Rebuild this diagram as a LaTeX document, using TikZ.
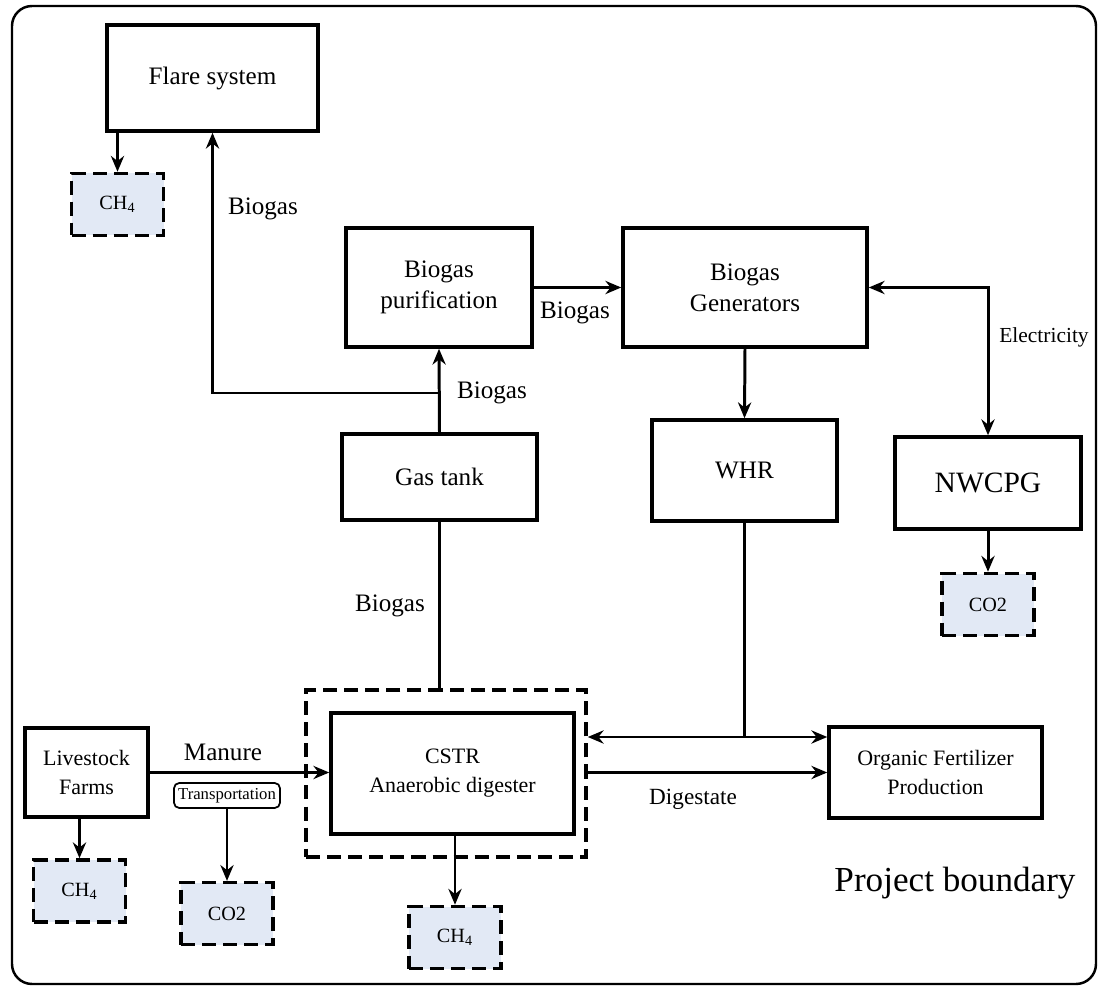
\documentclass[tikz,border=0pt]{standalone}
\usepackage{fontspec}
\setmainfont{Liberation Serif}
\usepackage{tikz}
\usetikzlibrary{shapes,arrows.meta,positioning}
\definecolor{emisblue}{RGB}{226,233,245}

\begin{document}
\begin{tikzpicture}[
    block/.style={rectangle, draw, line width=2pt, align=center, inner sep=0pt, font=\fontsize{14.3}{17.6}\selectfont},
    smallblock/.style={block, font=\fontsize{12.5}{16.5}\selectfont},
    emission/.style={rectangle, draw, dash pattern=on 8pt off 4pt, line width=2pt, fill=emisblue, minimum width=1.84cm, minimum height=1.24cm, font=\fontsize{11.5}{13}\selectfont},
    transport/.style={rectangle, draw, rounded corners=3pt, line width=1pt, inner sep=1pt, minimum width=2.12cm, minimum height=0.5cm, font=\fontsize{9.5}{11}\selectfont},
    flow/.style={font=\fontsize{14.3}{17}\selectfont},
    line/.style={line width=1.7pt},
    arrow/.style={line, ->, >={Stealth[length=9pt,width=7.5pt]}},
    twoway/.style={arrow, <->}
]
\useasboundingbox (0,0) rectangle (21.96,-19.72);
\draw[line width=1.4pt, rounded corners=0.4cm] (0.24,-0.12) rectangle (21.92,-19.68);

% upper part
\node[block, minimum width=4.22cm, minimum height=2.12cm] (flare) at (4.25,-1.56) {Flare system};
\node[emission] (ch4top) at (2.35,-4.09) {CH\textsubscript{4}};
\node[block, minimum width=3.72cm, minimum height=2.38cm] (purif) at (8.78,-5.75) {Biogas\\purification};
\node[block, minimum width=4.88cm, minimum height=2.38cm] (gens) at (14.90,-5.75) {Biogas\\Generators};
\node[block, minimum width=3.90cm, minimum height=1.72cm] (tank) at (8.79,-9.54) {Gas tank};
\node[block, minimum width=3.70cm, minimum height=2.02cm] (whr) at (14.89,-9.41) {WHR};
\node[block, minimum width=3.72cm, minimum height=1.84cm, font=\fontsize{16.8}{20}\selectfont] (nwcpg) at (19.76,-9.66) {NWCPG};
\node[emission, below=0.82cm of nwcpg] (co2right) {CO2};

% lower part
\node[rectangle, draw, dash pattern=on 8pt off 4pt, line width=2pt, minimum width=5.6cm, minimum height=3.34cm] (digbound) at (8.92,-15.47) {};
\node[smallblock, minimum width=4.86cm, minimum height=2.42cm] (cstr) at (9.05,-15.47) {CSTR\\Anaerobic digester};
\node[smallblock, minimum width=4.26cm, minimum height=1.82cm] (fert) at (18.71,-15.45) {Organic Fertilizer\\Production};
\node[smallblock, minimum width=2.46cm, minimum height=1.78cm] (farms) at (1.73,-15.45) {Livestock\\Farms};
\node[transport] (transp) at (4.54,-15.91) {Transportation};
\node[emission, below=1.44cm of transp] (co2left) {CO2};
\node[emission] (ch4left) at (1.59,-17.82) {CH\textsubscript{4}};
\node[emission] (ch4bottom) at (9.10,-18.75) {CH\textsubscript{4}};

% labels
\node[flow] (lblflare) at (5.26,-4.18) {Biogas};
\node[flow] (lblpurif) at (11.50,-6.26) {Biogas};
\node[flow] (lbltank) at (9.84,-7.86) {Biogas};
\node[flow] (lbldig) at (7.80,-12.12) {Biogas};
\node[font=\fontsize{12.2}{14}\selectfont] (lblelec) at (20.88,-6.74) {Electricity};
\node[flow] (lblmanure) at (4.46,-15.04) {Manure};
\node[font=\fontsize{13.2}{15}\selectfont] (lbldigestate) at (13.86,-15.98) {Digestate};
\node[font=\fontsize{20}{24}\selectfont] (boundary) at (19.1,-17.66) {Project boundary};

% connectors
\coordinate (split) at (8.78,-7.86);
\coordinate (whrjoin) at (14.89,-14.74);
\draw[arrow] (tank.north) -- (purif.south);
\draw[arrow] (split) -| (flare.south);
\draw[arrow] (ch4top.north |- flare.south) -- (ch4top.north);
\draw[arrow] (purif.east) -- (gens.west);
\draw[arrow] (gens.south) -- (whr.north);
\draw[twoway] (gens.east) -| (nwcpg.north);
\draw[arrow] (nwcpg) -- (co2right);
\draw[line] (whr.south) -- (whrjoin);
\draw[arrow] (whrjoin) -- (whrjoin -| digbound.east);
\draw[arrow] (whrjoin) -- (whrjoin -| fert.west);
\draw[arrow] (digbound.east |- fert.west) -- (fert.west);
\draw[line] (tank.south) -- (tank.south |- digbound.north);
\draw[arrow] (farms.east) -- (farms.east -| cstr.west);
\draw[arrow] (transp) -- (co2left);
\draw[arrow] (ch4left.north |- farms.south) -- (ch4left.north);
\draw[arrow] (ch4bottom.north |- cstr.south) -- (ch4bottom.north);
\end{tikzpicture}
\end{document}
